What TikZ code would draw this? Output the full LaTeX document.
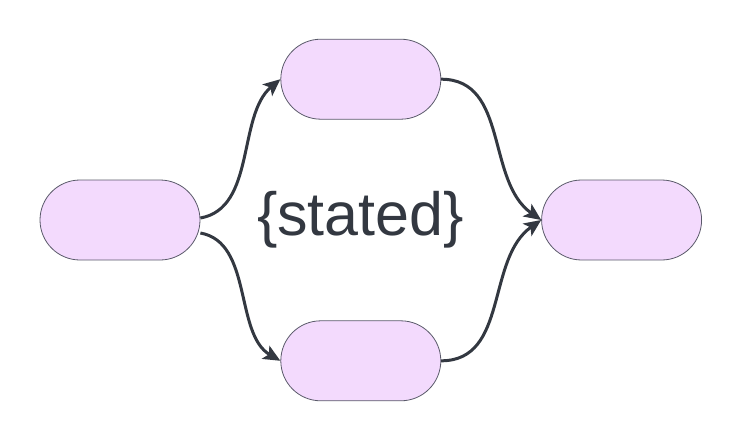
\documentclass[tikz,border=0pt]{standalone}
\usepackage{fontspec}
\setmainfont{Liberation Sans}
\usepackage{xcolor}
\usetikzlibrary{arrows.meta,positioning}
\definecolor{nodefill}{HTML}{F3DAFD}
\definecolor{nodeline}{HTML}{5A5A6A}
\definecolor{edgeline}{HTML}{333841}

\begin{document}
\begin{tikzpicture}[
  x=1pt, y=-1pt,
  node distance=60pt and 80pt,
  >={Stealth[length=17pt,width=15pt,inset=4pt]},
  state/.style={rectangle,rounded corners=40pt,draw=nodeline,line width=0.8pt,fill=nodefill,minimum width=160pt,minimum height=80pt,inner sep=0pt},
  edge/.style={->,draw=edgeline,line width=3pt}
]
\useasboundingbox (0,0) rectangle (740,440);
\node[state] (start) at (120,220) {};
\node[state, above right=of start] (upper) {};
\node[state, below right=of start] (lower) {};
\node[state, below right=60pt and 100pt of upper] (finish) {};

\node[anchor=base, text=edgeline, font=\fontsize{61}{70}\selectfont, inner sep=0pt] (title) at (360.5,235) {\{stated\}};

% arrows
\draw[edge] ([yshift=2pt]start.east) to[out=10,in=220,looseness=0.9] (upper.west);
\draw[edge] ([yshift=-13pt]start.east) to[out=-10,in=150,looseness=0.9] (lower.west);
\draw[edge] (upper.east) to[out=0,in=145] (finish.west);
\draw[edge] (lower.east) to[out=0,in=215] (finish.west);
\end{tikzpicture}
\end{document}
